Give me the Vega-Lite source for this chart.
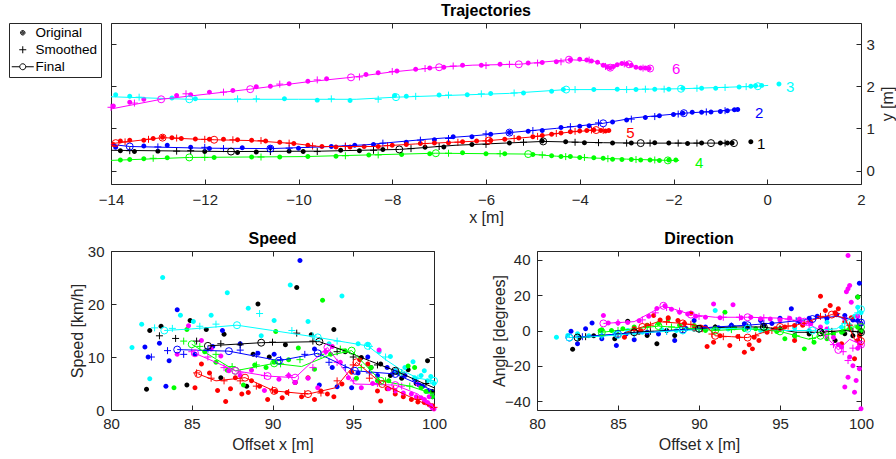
{
"$schema":"https://vega.github.io/schema/vega-lite/v6.json",
"padding":{"left":8,"top":2,"right":0,"bottom":0},
"autosize":{"type":"pad"},
"bounds":"flush",
"spacing":67,
"config":{
 "font":"Liberation Sans",
 "view":{"stroke":"#262626","strokeWidth":1},
 "axis":{"domain":false,"grid":false,"tickColor":"#262626","tickSize":-5,"tickWidth":1,"labelColor":"#262626","labelFontSize":15,"labelPadding":13,"labelOverlap":false,"labelFlush":false,"labelBound":false,"titleColor":"#262626","titleFontSize":16,"titleFontWeight":"normal","titlePadding":3},
 "title":{"fontSize":16,"fontWeight":"bold","color":"#000000","offset":4,"anchor":"middle","frame":"group"}
},
"datasets":{
"top_o":[
{"t":"1","x":-13.8,"y":0.47},{"t":"1","x":-13.5,"y":0.45},{"t":"1","x":-13.0,"y":0.46},{"t":"1","x":-12.0,"y":0.45},{"t":"1","x":-11.3,"y":0.43},{"t":"1","x":-10.9,"y":0.44},{"t":"1","x":-10.2,"y":0.46},{"t":"1","x":-9.9,"y":0.45},{"t":"1","x":-9.1,"y":0.48},{"t":"1","x":-8.7,"y":0.47},{"t":"1","x":-8.2,"y":0.5},{"t":"1","x":-7.3,"y":0.55},{"t":"1","x":-6.9,"y":0.56},{"t":"1","x":-6.3,"y":0.62},{"t":"1","x":-5.5,"y":0.65},{"t":"1","x":-4.8,"y":0.7},{"t":"1","x":-4.3,"y":0.68},{"t":"1","x":-3.9,"y":0.66},{"t":"1","x":-3.3,"y":0.65},{"t":"1","x":-2.9,"y":0.65},{"t":"1","x":-2.4,"y":0.66},{"t":"1","x":-2.1,"y":0.65},{"t":"1","x":-1.7,"y":0.64},{"t":"1","x":-1.4,"y":0.65},{"t":"1","x":-1.0,"y":0.65},{"t":"1","x":-0.85,"y":0.65},{"t":"1","x":-0.75,"y":0.65},{"t":"1","x":-0.35,"y":0.68},
{"t":"2","x":-13.9,"y":0.55},{"t":"2","x":-13.3,"y":0.58},{"t":"2","x":-12.8,"y":0.6},{"t":"2","x":-12.3,"y":0.55},{"t":"2","x":-11.9,"y":0.52},{"t":"2","x":-11.2,"y":0.54},{"t":"2","x":-10.6,"y":0.54},{"t":"2","x":-10.0,"y":0.53},{"t":"2","x":-9.3,"y":0.57},{"t":"2","x":-8.8,"y":0.6},{"t":"2","x":-8.4,"y":0.62},{"t":"2","x":-7.7,"y":0.67},{"t":"2","x":-7.1,"y":0.73},{"t":"2","x":-6.7,"y":0.8},{"t":"2","x":-6.3,"y":0.8},{"t":"2","x":-5.9,"y":0.86},{"t":"2","x":-5.5,"y":0.9},{"t":"2","x":-5.1,"y":0.93},{"t":"2","x":-4.8,"y":0.95},{"t":"2","x":-4.4,"y":1.02},{"t":"2","x":-4.0,"y":1.05},{"t":"2","x":-3.8,"y":1.06},{"t":"2","x":-3.3,"y":1.15},{"t":"2","x":-3.0,"y":1.2},{"t":"2","x":-2.6,"y":1.26},{"t":"2","x":-2.3,"y":1.3},{"t":"2","x":-2.0,"y":1.33},{"t":"2","x":-1.8,"y":1.36},{"t":"2","x":-1.6,"y":1.38},{"t":"2","x":-1.4,"y":1.38},{"t":"2","x":-1.2,"y":1.39},{"t":"2","x":-1.0,"y":1.4},{"t":"2","x":-0.85,"y":1.42},{"t":"2","x":-0.7,"y":1.44},{"t":"2","x":-0.63,"y":1.45},
{"t":"3","x":-13.9,"y":1.8},{"t":"3","x":-13.6,"y":1.76},{"t":"3","x":-12.7,"y":1.72},{"t":"3","x":-12.2,"y":1.7},{"t":"3","x":-10.3,"y":1.7},{"t":"3","x":-9.6,"y":1.67},{"t":"3","x":-8.9,"y":1.66},{"t":"3","x":-7.95,"y":1.78},{"t":"3","x":-7.7,"y":1.76},{"t":"3","x":-7.0,"y":1.79},{"t":"3","x":-6.4,"y":1.8},{"t":"3","x":-5.9,"y":1.83},{"t":"3","x":-5.2,"y":1.84},{"t":"3","x":-4.6,"y":1.88},{"t":"3","x":-4.35,"y":1.92},{"t":"3","x":-3.7,"y":1.92},{"t":"3","x":-3.2,"y":1.93},{"t":"3","x":-2.8,"y":1.92},{"t":"3","x":-2.4,"y":1.93},{"t":"3","x":-2.1,"y":1.93},{"t":"3","x":-1.8,"y":1.95},{"t":"3","x":-1.4,"y":1.95},{"t":"3","x":-1.1,"y":1.95},{"t":"3","x":-0.6,"y":1.98},{"t":"3","x":-0.35,"y":2.0},{"t":"3","x":-0.25,"y":2.01},{"t":"3","x":-0.12,"y":2.02},{"t":"3","x":0.25,"y":2.05},
{"t":"4","x":-13.8,"y":0.25},{"t":"4","x":-13.6,"y":0.26},{"t":"4","x":-13.3,"y":0.28},{"t":"4","x":-12.8,"y":0.3},{"t":"4","x":-11.8,"y":0.31},{"t":"4","x":-11.0,"y":0.32},{"t":"4","x":-10.4,"y":0.32},{"t":"4","x":-9.8,"y":0.33},{"t":"4","x":-9.2,"y":0.34},{"t":"4","x":-8.5,"y":0.37},{"t":"4","x":-7.8,"y":0.38},{"t":"4","x":-7.2,"y":0.4},{"t":"4","x":-6.5,"y":0.42},{"t":"4","x":-6.0,"y":0.4},{"t":"4","x":-5.6,"y":0.4},{"t":"4","x":-5.0,"y":0.38},{"t":"4","x":-4.6,"y":0.35},{"t":"4","x":-4.4,"y":0.33},{"t":"4","x":-4.2,"y":0.33},{"t":"4","x":-4.0,"y":0.31},{"t":"4","x":-3.7,"y":0.3},{"t":"4","x":-3.5,"y":0.29},{"t":"4","x":-3.3,"y":0.27},{"t":"4","x":-3.1,"y":0.26},{"t":"4","x":-2.9,"y":0.26},{"t":"4","x":-2.7,"y":0.25},{"t":"4","x":-2.5,"y":0.25},{"t":"4","x":-2.3,"y":0.24},{"t":"4","x":-2.1,"y":0.25},{"t":"4","x":-1.95,"y":0.25},
{"t":"5","x":-13.95,"y":0.62},{"t":"5","x":-13.8,"y":0.7},{"t":"5","x":-13.6,"y":0.72},{"t":"5","x":-13.3,"y":0.72},{"t":"5","x":-13.1,"y":0.76},{"t":"5","x":-12.9,"y":0.79},{"t":"5","x":-12.7,"y":0.78},{"t":"5","x":-12.5,"y":0.76},{"t":"5","x":-12.2,"y":0.75},{"t":"5","x":-11.9,"y":0.74},{"t":"5","x":-11.6,"y":0.74},{"t":"5","x":-11.3,"y":0.73},{"t":"5","x":-11.0,"y":0.72},{"t":"5","x":-10.7,"y":0.7},{"t":"5","x":-10.4,"y":0.67},{"t":"5","x":-10.1,"y":0.64},{"t":"5","x":-9.8,"y":0.6},{"t":"5","x":-9.5,"y":0.57},{"t":"5","x":-9.2,"y":0.56},{"t":"5","x":-8.9,"y":0.56},{"t":"5","x":-8.6,"y":0.57},{"t":"5","x":-8.3,"y":0.57},{"t":"5","x":-8.0,"y":0.6},{"t":"5","x":-7.7,"y":0.62},{"t":"5","x":-7.4,"y":0.64},{"t":"5","x":-7.1,"y":0.65},{"t":"5","x":-6.8,"y":0.66},{"t":"5","x":-6.5,"y":0.68},{"t":"5","x":-6.2,"y":0.7},{"t":"5","x":-5.9,"y":0.71},{"t":"5","x":-5.6,"y":0.74},{"t":"5","x":-5.3,"y":0.77},{"t":"5","x":-5.0,"y":0.8},{"t":"5","x":-4.8,"y":0.83},{"t":"5","x":-4.6,"y":0.86},{"t":"5","x":-4.4,"y":0.89},{"t":"5","x":-4.2,"y":0.92},{"t":"5","x":-4.0,"y":0.94},{"t":"5","x":-3.85,"y":0.95},{"t":"5","x":-3.7,"y":0.96},{"t":"5","x":-3.55,"y":0.95},{"t":"5","x":-3.45,"y":0.94},{"t":"5","x":-3.38,"y":0.95},
{"t":"6","x":-13.95,"y":1.53},{"t":"6","x":-13.6,"y":1.62},{"t":"6","x":-13.3,"y":1.69},{"t":"6","x":-12.6,"y":1.78},{"t":"6","x":-12.3,"y":1.8},{"t":"6","x":-11.9,"y":1.86},{"t":"6","x":-11.4,"y":1.9},{"t":"6","x":-10.9,"y":1.99},{"t":"6","x":-10.6,"y":2.0},{"t":"6","x":-10.2,"y":2.06},{"t":"6","x":-9.8,"y":2.12},{"t":"6","x":-9.4,"y":2.18},{"t":"6","x":-8.56,"y":2.28},{"t":"6","x":-8.3,"y":2.32},{"t":"6","x":-7.9,"y":2.36},{"t":"6","x":-7.5,"y":2.4},{"t":"6","x":-7.2,"y":2.43},{"t":"6","x":-6.9,"y":2.45},{"t":"6","x":-6.5,"y":2.5},{"t":"6","x":-6.1,"y":2.5},{"t":"6","x":-5.7,"y":2.52},{"t":"6","x":-5.1,"y":2.55},{"t":"6","x":-4.8,"y":2.56},{"t":"6","x":-4.5,"y":2.58},{"t":"6","x":-4.2,"y":2.63},{"t":"6","x":-4.0,"y":2.64},{"t":"6","x":-3.85,"y":2.62},{"t":"6","x":-3.75,"y":2.6},{"t":"6","x":-3.62,"y":2.57},{"t":"6","x":-3.5,"y":2.5},{"t":"6","x":-3.42,"y":2.46},{"t":"6","x":-3.35,"y":2.44},{"t":"6","x":-3.28,"y":2.47},{"t":"6","x":-3.2,"y":2.51},{"t":"6","x":-3.1,"y":2.54},{"t":"6","x":-3.0,"y":2.53},{"t":"6","x":-2.9,"y":2.5},{"t":"6","x":-2.8,"y":2.45},{"t":"6","x":-2.7,"y":2.43},{"t":"6","x":-2.6,"y":2.43},{"t":"6","x":-2.52,"y":2.42}
],
"top_s":[
{"t":"1","x":-13.6,"y":0.47},{"t":"1","x":-12.6,"y":0.46},{"t":"1","x":-12.3,"y":0.47},{"t":"1","x":-10.6,"y":0.45},{"t":"1","x":-9.6,"y":0.45},{"t":"1","x":-8.4,"y":0.48},{"t":"1","x":-7.6,"y":0.52},{"t":"1","x":-7.0,"y":0.57},{"t":"1","x":-6.0,"y":0.62},{"t":"1","x":-5.2,"y":0.67},{"t":"1","x":-4.1,"y":0.67},{"t":"1","x":-3.6,"y":0.66},{"t":"1","x":-3.0,"y":0.65},{"t":"1","x":-2.5,"y":0.65},{"t":"1","x":-1.9,"y":0.65},{"t":"1","x":-1.5,"y":0.65},{"t":"1","x":-0.9,"y":0.65},
{"t":"2","x":-13.0,"y":0.56},{"t":"2","x":-12.0,"y":0.55},{"t":"2","x":-11.6,"y":0.52},{"t":"2","x":-10.2,"y":0.53},{"t":"2","x":-9.0,"y":0.58},{"t":"2","x":-8.2,"y":0.65},{"t":"2","x":-7.4,"y":0.72},{"t":"2","x":-6.8,"y":0.76},{"t":"2","x":-6.0,"y":0.87},{"t":"2","x":-5.0,"y":0.95},{"t":"2","x":-4.2,"y":1.04},{"t":"2","x":-3.6,"y":1.13},{"t":"2","x":-2.9,"y":1.22},{"t":"2","x":-2.4,"y":1.28},{"t":"2","x":-1.9,"y":1.34},{"t":"2","x":-1.3,"y":1.39},{"t":"2","x":-0.9,"y":1.42},
{"t":"3","x":-13.4,"y":1.74},{"t":"3","x":-11.3,"y":1.7},{"t":"3","x":-10.9,"y":1.7},{"t":"3","x":-9.3,"y":1.7},{"t":"3","x":-8.3,"y":1.69},{"t":"3","x":-7.5,"y":1.76},{"t":"3","x":-6.8,"y":1.79},{"t":"3","x":-6.1,"y":1.82},{"t":"3","x":-5.4,"y":1.84},{"t":"3","x":-4.1,"y":1.92},{"t":"3","x":-3.0,"y":1.92},{"t":"3","x":-2.6,"y":1.93},{"t":"3","x":-2.2,"y":1.93},{"t":"3","x":-1.5,"y":1.95},{"t":"3","x":-0.9,"y":1.97},{"t":"3","x":-0.45,"y":1.99},
{"t":"4","x":-13.1,"y":0.29},{"t":"4","x":-12.0,"y":0.31},{"t":"4","x":-10.8,"y":0.32},{"t":"4","x":-9.0,"y":0.35},{"t":"4","x":-8.3,"y":0.37},{"t":"4","x":-6.8,"y":0.41},{"t":"4","x":-5.7,"y":0.4},{"t":"4","x":-4.8,"y":0.37},{"t":"4","x":-4.3,"y":0.33},{"t":"4","x":-3.9,"y":0.31},{"t":"4","x":-3.4,"y":0.28},{"t":"4","x":-2.8,"y":0.26},{"t":"4","x":-2.4,"y":0.25},
{"t":"5","x":-13.7,"y":0.68},{"t":"5","x":-13.2,"y":0.74},{"t":"5","x":-12.6,"y":0.77},{"t":"5","x":-12.0,"y":0.74},{"t":"5","x":-11.4,"y":0.73},{"t":"5","x":-10.8,"y":0.71},{"t":"5","x":-10.2,"y":0.65},{"t":"5","x":-9.7,"y":0.58},{"t":"5","x":-9.0,"y":0.57},{"t":"5","x":-8.1,"y":0.59},{"t":"5","x":-7.3,"y":0.64},{"t":"5","x":-6.6,"y":0.67},{"t":"5","x":-6.0,"y":0.7},{"t":"5","x":-5.4,"y":0.76},{"t":"5","x":-4.9,"y":0.81},{"t":"5","x":-4.5,"y":0.88},{"t":"5","x":-4.1,"y":0.93},{"t":"5","x":-3.75,"y":0.96},{"t":"5","x":-3.5,"y":0.95},
{"t":"6","x":-14.0,"y":1.5},{"t":"6","x":-13.5,"y":1.6},{"t":"6","x":-12.4,"y":1.82},{"t":"6","x":-11.6,"y":1.86},{"t":"6","x":-10.4,"y":2.05},{"t":"6","x":-9.6,"y":2.15},{"t":"6","x":-8.7,"y":2.22},{"t":"6","x":-8.0,"y":2.35},{"t":"6","x":-7.3,"y":2.42},{"t":"6","x":-6.7,"y":2.48},{"t":"6","x":-6.0,"y":2.49},{"t":"6","x":-5.5,"y":2.52},{"t":"6","x":-4.9,"y":2.55},{"t":"6","x":-4.4,"y":2.58},{"t":"6","x":-3.8,"y":2.62},{"t":"6","x":-3.45,"y":2.47},{"t":"6","x":-3.05,"y":2.53},{"t":"6","x":-2.65,"y":2.43}
],
"top_f":[
{"t":"1","x":-14,"y":0.48,"c":0},{"t":"1","x":-11.44,"y":0.45,"c":1},{"t":"1","x":-9.5,"y":0.46,"c":0},{"t":"1","x":-7.85,"y":0.5,"c":1},{"t":"1","x":-6.64,"y":0.6,"c":0},{"t":"1","x":-4.78,"y":0.69,"c":1},{"t":"1","x":-3.5,"y":0.66,"c":0},{"t":"1","x":-2.7,"y":0.65,"c":1},{"t":"1","x":-1.2,"y":0.65,"c":1},{"t":"1","x":-0.71,"y":0.65,"c":1},
{"t":"2","x":-14,"y":0.62,"c":0},{"t":"2","x":-13.6,"y":0.57,"c":1},{"t":"2","x":-12,"y":0.53,"c":0},{"t":"2","x":-10.6,"y":0.52,"c":1},{"t":"2","x":-9.5,"y":0.56,"c":0},{"t":"2","x":-8.56,"y":0.61,"c":0},{"t":"2","x":-7.98,"y":0.67,"c":0},{"t":"2","x":-7.28,"y":0.74,"c":0},{"t":"2","x":-6.3,"y":0.82,"c":0},{"t":"2","x":-5.5,"y":0.9,"c":1},{"t":"2","x":-4.5,"y":1.0,"c":0},{"t":"2","x":-3.5,"y":1.12,"c":1},{"t":"2","x":-2.84,"y":1.25,"c":0},{"t":"2","x":-1.78,"y":1.36,"c":1},{"t":"2","x":-1.05,"y":1.41,"c":0},{"t":"2","x":-0.62,"y":1.45,"c":0},
{"t":"3","x":-14,"y":1.75,"c":0},{"t":"3","x":-12.33,"y":1.69,"c":1},{"t":"3","x":-10,"y":1.69,"c":0},{"t":"3","x":-8.77,"y":1.69,"c":0},{"t":"3","x":-7.92,"y":1.74,"c":1},{"t":"3","x":-5.5,"y":1.83,"c":0},{"t":"3","x":-4.29,"y":1.92,"c":1},{"t":"3","x":-3.23,"y":1.92,"c":0},{"t":"3","x":-1.84,"y":1.94,"c":1},{"t":"3","x":-0.2,"y":2.0,"c":1},{"t":"3","x":0.02,"y":2.02,"c":0},
{"t":"4","x":-14,"y":0.24,"c":0},{"t":"4","x":-12.33,"y":0.31,"c":1},{"t":"4","x":-9.9,"y":0.33,"c":0},{"t":"4","x":-7.07,"y":0.41,"c":1},{"t":"4","x":-5.1,"y":0.39,"c":1},{"t":"4","x":-4.5,"y":0.34,"c":0},{"t":"4","x":-3.8,"y":0.3,"c":0},{"t":"4","x":-3.0,"y":0.27,"c":0},{"t":"4","x":-2.12,"y":0.24,"c":1},{"t":"4","x":-1.88,"y":0.24,"c":0},
{"t":"5","x":-14,"y":0.63,"c":0},{"t":"5","x":-13.9,"y":0.65,"c":1},{"t":"5","x":-12.9,"y":0.78,"c":1},{"t":"5","x":-12.1,"y":0.74,"c":0},{"t":"5","x":-11.8,"y":0.73,"c":1},{"t":"5","x":-11,"y":0.71,"c":0},{"t":"5","x":-10.1,"y":0.64,"c":0},{"t":"5","x":-9.56,"y":0.57,"c":0},{"t":"5","x":-8.4,"y":0.57,"c":0},{"t":"5","x":-7.5,"y":0.63,"c":0},{"t":"5","x":-5.94,"y":0.71,"c":1},{"t":"5","x":-5.08,"y":0.79,"c":0},{"t":"5","x":-4.23,"y":0.91,"c":0},{"t":"5","x":-3.65,"y":0.96,"c":1},{"t":"5","x":-3.38,"y":0.95,"c":0},
{"t":"6","x":-14,"y":1.46,"c":0},{"t":"6","x":-12.93,"y":1.69,"c":1},{"t":"6","x":-11.03,"y":1.93,"c":1},{"t":"6","x":-9.84,"y":2.1,"c":0},{"t":"6","x":-8.88,"y":2.21,"c":1},{"t":"6","x":-8.07,"y":2.33,"c":0},{"t":"6","x":-7.0,"y":2.45,"c":1},{"t":"6","x":-6.28,"y":2.5,"c":0},{"t":"6","x":-5.3,"y":2.52,"c":1},{"t":"6","x":-4.23,"y":2.63,"c":1},{"t":"6","x":-3.7,"y":2.6,"c":0},{"t":"6","x":-3.5,"y":2.5,"c":0},{"t":"6","x":-3.35,"y":2.44,"c":1},{"t":"6","x":-3.15,"y":2.53,"c":0},{"t":"6","x":-2.95,"y":2.52,"c":1},{"t":"6","x":-2.75,"y":2.44,"c":0},{"t":"6","x":-2.5,"y":2.42,"c":1}
],
"top_l":[
{"t":"1","x":-0.22,"y":0.63},{"t":"2","x":-0.26,"y":1.37},{"t":"3","x":0.4,"y":1.97},{"t":"4","x":-1.54,"y":0.19},{"t":"5","x":-3.01,"y":0.88},{"t":"6","x":-2.03,"y":2.41}
],
"spd_o":[
{"t":"1","x":82.2,"y":3.9},{"t":"1","x":82.4,"y":15.0},{"t":"1","x":83.1,"y":15.8},{"t":"1","x":84.7,"y":4.7},{"t":"1","x":84.9,"y":16.9},{"t":"1","x":85.9,"y":15.2},{"t":"1","x":86.8,"y":6.1},{"t":"1","x":87.0,"y":14.3},{"t":"1","x":88.4,"y":4.5},{"t":"1","x":88.8,"y":10.5},{"t":"1","x":89.1,"y":20.0},{"t":"1","x":89.8,"y":10},{"t":"1","x":90.8,"y":12.3},{"t":"1","x":91.5,"y":23.1},{"t":"1","x":92.4,"y":14.2},{"t":"1","x":93.8,"y":15.2},{"t":"1","x":94.5,"y":11},{"t":"1","x":95.5,"y":9.9},{"t":"1","x":96.1,"y":8},{"t":"1","x":96.7,"y":8.7},{"t":"1","x":97.3,"y":6.5},{"t":"1","x":98.0,"y":6},{"t":"1","x":98.4,"y":7.6},{"t":"1","x":98.9,"y":5},{"t":"1","x":99.2,"y":4.5},{"t":"1","x":99.6,"y":9.3},{"t":"1","x":99.9,"y":3.5},
{"t":"2","x":82.1,"y":11.9},{"t":"2","x":82.3,"y":10},{"t":"2","x":83.0,"y":12.6},{"t":"2","x":83.4,"y":4.5},{"t":"2","x":83.6,"y":9.3},{"t":"2","x":84.1,"y":18.9},{"t":"2","x":85.2,"y":10.5},{"t":"2","x":86.3,"y":12},{"t":"2","x":86.9,"y":15.0},{"t":"2","x":88.0,"y":12.5},{"t":"2","x":89.1,"y":10.7},{"t":"2","x":90.1,"y":10.5},{"t":"2","x":91.4,"y":5.2},{"t":"2","x":91.7,"y":28.2},{"t":"2","x":92.6,"y":11.5},{"t":"2","x":92.9,"y":4.7},{"t":"2","x":93.7,"y":8},{"t":"2","x":94.0,"y":4.4},{"t":"2","x":94.9,"y":4.2},{"t":"2","x":95.3,"y":7},{"t":"2","x":95.9,"y":10.0},{"t":"2","x":96.5,"y":6.5},{"t":"2","x":97.1,"y":8},{"t":"2","x":97.6,"y":7.4},{"t":"2","x":98.2,"y":6.5},{"t":"2","x":98.8,"y":5.8},{"t":"2","x":99.3,"y":4.5},{"t":"2","x":99.6,"y":3.6},{"t":"2","x":99.9,"y":2.5},
{"t":"3","x":81.3,"y":11.8},{"t":"3","x":81.9,"y":16.2},{"t":"3","x":82.4,"y":5.9},{"t":"3","x":83.2,"y":25.0},{"t":"3","x":84.3,"y":17.9},{"t":"3","x":85.1,"y":16.7},{"t":"3","x":86.2,"y":17.9},{"t":"3","x":87.2,"y":22.1},{"t":"3","x":88.5,"y":19.2},{"t":"3","x":89.3,"y":14},{"t":"3","x":90.1,"y":16.9},{"t":"3","x":91.1,"y":23.6},{"t":"3","x":92.2,"y":16.7},{"t":"3","x":93.5,"y":12.5},{"t":"3","x":94.3,"y":21.5},{"t":"3","x":95.3,"y":12.5},{"t":"3","x":95.9,"y":12.4},{"t":"3","x":96.6,"y":11},{"t":"3","x":97.3,"y":10.1},{"t":"3","x":97.6,"y":7.4},{"t":"3","x":98.2,"y":8},{"t":"3","x":98.7,"y":9.1},{"t":"3","x":98.8,"y":6.1},{"t":"3","x":99.2,"y":6.5},{"t":"3","x":99.4,"y":7.4},{"t":"3","x":99.6,"y":5.5},{"t":"3","x":99.8,"y":6.3},{"t":"3","x":100,"y":5},
{"t":"4","x":83.9,"y":4.2},{"t":"4","x":84.7,"y":15.2},{"t":"4","x":85.8,"y":11},{"t":"4","x":86.5,"y":9},{"t":"4","x":87.2,"y":7.5},{"t":"4","x":88.2,"y":4.7},{"t":"4","x":88.9,"y":8.5},{"t":"4","x":89.6,"y":8},{"t":"4","x":90.1,"y":9.0},{"t":"4","x":90.2,"y":14.8},{"t":"4","x":91.0,"y":9.5},{"t":"4","x":91.6,"y":11.7},{"t":"4","x":92.6,"y":7.7},{"t":"4","x":93.1,"y":20.7},{"t":"4","x":93.6,"y":10.5},{"t":"4","x":94.5,"y":11.2},{"t":"4","x":95.2,"y":6},{"t":"4","x":96.1,"y":8.0},{"t":"4","x":96.5,"y":5.5},{"t":"4","x":97.2,"y":5.5},{"t":"4","x":97.8,"y":7},{"t":"4","x":98.4,"y":8.3},{"t":"4","x":98.8,"y":8.0},{"t":"4","x":99.2,"y":4.2},{"t":"4","x":99.5,"y":3.5},{"t":"4","x":99.9,"y":2.5},
{"t":"5","x":85.2,"y":4.2},{"t":"5","x":85.6,"y":8.7},{"t":"5","x":86.1,"y":7},{"t":"5","x":86.6,"y":3.7},{"t":"5","x":87.1,"y":1.6},{"t":"5","x":87.4,"y":4},{"t":"5","x":87.7,"y":6.1},{"t":"5","x":88.1,"y":3},{"t":"5","x":88.5,"y":3.3},{"t":"5","x":88.7,"y":5.5},{"t":"5","x":89.2,"y":4.5},{"t":"5","x":89.7,"y":2.0},{"t":"5","x":90.2,"y":3.5},{"t":"5","x":90.6,"y":2.3},{"t":"5","x":90.9,"y":3.3},{"t":"5","x":91.4,"y":5.2},{"t":"5","x":91.8,"y":2.5},{"t":"5","x":92.2,"y":6.1},{"t":"5","x":92.6,"y":2.0},{"t":"5","x":93.0,"y":3.6},{"t":"5","x":93.4,"y":3.0},{"t":"5","x":93.8,"y":2.5},{"t":"5","x":94.3,"y":4.9},{"t":"5","x":94.9,"y":7.1},{"t":"5","x":95.4,"y":9.5},{"t":"5","x":95.9,"y":8.7},{"t":"5","x":96.5,"y":3.6},{"t":"5","x":96.7,"y":1.7},{"t":"5","x":97.1,"y":4},{"t":"5","x":97.6,"y":3.0},{"t":"5","x":98.1,"y":2.5},{"t":"5","x":98.6,"y":2.0},{"t":"5","x":99.0,"y":1.5},{"t":"5","x":99.4,"y":1.4},{"t":"5","x":99.7,"y":1},{"t":"5","x":99.9,"y":0.8},
{"t":"6","x":84.1,"y":10.5},{"t":"6","x":84.8,"y":15.9},{"t":"6","x":85.6,"y":13.1},{"t":"6","x":86.2,"y":11.5},{"t":"6","x":86.8,"y":10.2},{"t":"6","x":87.3,"y":7.4},{"t":"6","x":88,"y":6.5},{"t":"6","x":88.7,"y":7.5},{"t":"6","x":89.5,"y":3.7},{"t":"6","x":90.4,"y":5.8},{"t":"6","x":91.0,"y":6.5},{"t":"6","x":91.4,"y":5.2},{"t":"6","x":92.2,"y":6},{"t":"6","x":92.8,"y":4.2},{"t":"6","x":93.3,"y":11},{"t":"6","x":93.7,"y":12},{"t":"6","x":94.2,"y":9.0},{"t":"6","x":94.7,"y":6.1},{"t":"6","x":95.5,"y":4.2},{"t":"6","x":96.2,"y":5},{"t":"6","x":96.6,"y":11.3},{"t":"6","x":97.2,"y":4},{"t":"6","x":97.6,"y":3.6},{"t":"6","x":98.1,"y":3.2},{"t":"6","x":98.6,"y":3.0},{"t":"6","x":98.9,"y":2.5},{"t":"6","x":99.0,"y":4.9},{"t":"6","x":99.2,"y":2.3},{"t":"6","x":99.4,"y":2},{"t":"6","x":99.6,"y":1.4},{"t":"6","x":99.7,"y":2.5},{"t":"6","x":99.8,"y":0.8},{"t":"6","x":99.9,"y":0.4},{"t":"6","x":100,"y":0.2}
],
"spd_s":[
{"t":"1","x":83,"y":14},{"t":"1","x":84,"y":13.5},{"t":"1","x":85.3,"y":13},{"t":"1","x":86.8,"y":12.5},{"t":"1","x":88,"y":12.3},{"t":"1","x":90,"y":12.8},{"t":"1","x":91.5,"y":14.5},{"t":"1","x":92.5,"y":13},{"t":"1","x":94,"y":11},{"t":"1","x":95,"y":10},{"t":"1","x":96.5,"y":8.5},{"t":"1","x":98,"y":7},{"t":"1","x":99.5,"y":5},
{"t":"2","x":82.5,"y":10},{"t":"2","x":83.5,"y":11.2},{"t":"2","x":84.5,"y":10.5},{"t":"2","x":86,"y":11.5},{"t":"2","x":88,"y":11.3},{"t":"2","x":89,"y":10.5},{"t":"2","x":90.5,"y":9.5},{"t":"2","x":92,"y":10.5},{"t":"2","x":93.5,"y":9},{"t":"2","x":94.5,"y":8},{"t":"2","x":96,"y":7},{"t":"2","x":97.5,"y":7},{"t":"2","x":99,"y":5},
{"t":"3","x":82.7,"y":15.5},{"t":"3","x":83.8,"y":15.4},{"t":"3","x":85.5,"y":15.8},{"t":"3","x":86.5,"y":16.2},{"t":"3","x":89.2,"y":18.2},{"t":"3","x":91.2,"y":15},{"t":"3","x":92.5,"y":14},{"t":"3","x":94,"y":13},{"t":"3","x":96,"y":12},{"t":"3","x":97,"y":10},{"t":"3","x":98,"y":7},{"t":"3","x":99,"y":6},{"t":"3","x":99.8,"y":5.5},
{"t":"4","x":84.5,"y":13},{"t":"4","x":85.5,"y":12},{"t":"4","x":86.5,"y":10.5},{"t":"4","x":87.5,"y":8.2},{"t":"4","x":89,"y":8.5},{"t":"4","x":90.5,"y":8.7},{"t":"4","x":91.7,"y":9.5},{"t":"4","x":93,"y":10.5},{"t":"4","x":94.2,"y":11.5},{"t":"4","x":95.5,"y":8},{"t":"4","x":97,"y":5.5},{"t":"4","x":98.5,"y":4.5},{"t":"4","x":99.8,"y":3.2},
{"t":"5","x":85.3,"y":7},{"t":"5","x":86.2,"y":6},{"t":"5","x":87,"y":5.5},{"t":"5","x":88,"y":5.5},{"t":"5","x":89,"y":4.5},{"t":"5","x":90,"y":3.8},{"t":"5","x":91,"y":3.3},{"t":"5","x":92,"y":3.1},{"t":"5","x":93,"y":3.2},{"t":"5","x":94,"y":5.5},{"t":"5","x":95,"y":8.5},{"t":"5","x":96,"y":6},{"t":"5","x":97.5,"y":4},{"t":"5","x":99,"y":2},{"t":"5","x":100,"y":0.5},
{"t":"6","x":85,"y":11},{"t":"6","x":86,"y":10},{"t":"6","x":87,"y":8},{"t":"6","x":88,"y":7},{"t":"6","x":89.5,"y":6.5},{"t":"6","x":91,"y":6.5},{"t":"6","x":92.5,"y":8},{"t":"6","x":93.3,"y":11},{"t":"6","x":94,"y":9},{"t":"6","x":95,"y":5.5},{"t":"6","x":96.5,"y":5},{"t":"6","x":98,"y":4.5},{"t":"6","x":99.5,"y":1.5}
],
"spd_f":[
{"t":"1","x":86.0,"y":12.1,"c":1},{"t":"1","x":89.3,"y":12.7,"c":1},{"t":"1","x":92.9,"y":12.9,"c":1},{"t":"1","x":94.7,"y":10.9,"c":0},{"t":"1","x":96,"y":9.3,"c":0},{"t":"1","x":97.6,"y":7.4,"c":1},{"t":"1","x":99,"y":5.5,"c":0},{"t":"1","x":100,"y":4.2,"c":0},
{"t":"2","x":84.1,"y":11.4,"c":1},{"t":"2","x":87.3,"y":11.1,"c":1},{"t":"2","x":90.4,"y":9.3,"c":1},{"t":"2","x":92.8,"y":10.7,"c":1},{"t":"2","x":95.1,"y":7.4,"c":1},{"t":"2","x":97.6,"y":6.8,"c":1},{"t":"2","x":100,"y":3.6,"c":0},
{"t":"3","x":83.3,"y":15.0,"c":1},{"t":"3","x":85,"y":15.3,"c":0},{"t":"3","x":87.8,"y":16.0,"c":1},{"t":"3","x":90,"y":15,"c":0},{"t":"3","x":92.8,"y":13.7,"c":1},{"t":"3","x":94.5,"y":12.8,"c":0},{"t":"3","x":95.9,"y":12.1,"c":1},{"t":"3","x":97,"y":9.5,"c":0},{"t":"3","x":98,"y":7.5,"c":0},{"t":"3","x":99,"y":6,"c":0},{"t":"3","x":100,"y":5.5,"c":1},
{"t":"4","x":85.0,"y":12.4,"c":1},{"t":"4","x":87.7,"y":7.4,"c":1},{"t":"4","x":90.1,"y":8.8,"c":1},{"t":"4","x":91.8,"y":8.2,"c":0},{"t":"4","x":93.4,"y":10.2,"c":0},{"t":"4","x":94.9,"y":11.2,"c":1},{"t":"4","x":96.7,"y":5.5,"c":1},{"t":"4","x":98.5,"y":4.5,"c":0},{"t":"4","x":100,"y":3.0,"c":0},
{"t":"5","x":85.4,"y":6.8,"c":1},{"t":"5","x":86.5,"y":5.5,"c":0},{"t":"5","x":88.3,"y":6.1,"c":1},{"t":"5","x":90.1,"y":3.6,"c":1},{"t":"5","x":92.2,"y":3.0,"c":1},{"t":"5","x":93.9,"y":4.2,"c":0},{"t":"5","x":95.2,"y":9.0,"c":1},{"t":"5","x":96.8,"y":4.9,"c":1},{"t":"5","x":98.5,"y":2.5,"c":0},{"t":"5","x":100,"y":0.4,"c":0},
{"t":"6","x":85.2,"y":10.7,"c":1},{"t":"6","x":87.7,"y":7.4,"c":1},{"t":"6","x":89.7,"y":6.4,"c":1},{"t":"6","x":91.4,"y":6.1,"c":1},{"t":"6","x":93.4,"y":11.8,"c":1},{"t":"6","x":95.1,"y":4.9,"c":0},{"t":"6","x":97.6,"y":4.7,"c":1},{"t":"6","x":99,"y":3,"c":0},{"t":"6","x":100,"y":0.4,"c":0}
],
"dir_o":[
{"t":"1","x":82.2,"y":-10.6},{"t":"1","x":82.6,"y":-4},{"t":"1","x":83.5,"y":-3},{"t":"1","x":84.8,"y":-4.7},{"t":"1","x":85.6,"y":5.3},{"t":"1","x":86.3,"y":-1},{"t":"1","x":86.8,"y":-2.8},{"t":"1","x":87.4,"y":-7.5},{"t":"1","x":88.0,"y":0},{"t":"1","x":88.5,"y":-2.8},{"t":"1","x":89.2,"y":1},{"t":"1","x":90,"y":1.5},{"t":"1","x":91,"y":2},{"t":"1","x":92,"y":2.5},{"t":"1","x":93,"y":2},{"t":"1","x":94,"y":2.5},{"t":"1","x":95,"y":1},{"t":"1","x":95.9,"y":-2.8},{"t":"1","x":96.8,"y":-2},{"t":"1","x":97.6,"y":-1},{"t":"1","x":98.4,"y":-5.7},{"t":"1","x":99.0,"y":-1.9},{"t":"1","x":99.5,"y":-3},{"t":"1","x":99.8,"y":18.9},{"t":"1","x":100,"y":-1},
{"t":"2","x":82.1,"y":-0.4},{"t":"2","x":82.5,"y":-7.5},{"t":"2","x":83.0,"y":1},{"t":"2","x":83.4,"y":4.2},{"t":"2","x":84.0,"y":-4.7},{"t":"2","x":84.9,"y":-8.5},{"t":"2","x":85.5,"y":-2},{"t":"2","x":86.0,"y":-5.3},{"t":"2","x":86.8,"y":-1},{"t":"2","x":87.5,"y":-2},{"t":"2","x":88.5,"y":-5.7},{"t":"2","x":89.2,"y":1},{"t":"2","x":89.7,"y":5.7},{"t":"2","x":90.4,"y":2},{"t":"2","x":91.2,"y":1.5},{"t":"2","x":92.0,"y":3},{"t":"2","x":92.8,"y":3.8},{"t":"2","x":93.8,"y":5.7},{"t":"2","x":94.5,"y":4},{"t":"2","x":95.0,"y":7},{"t":"2","x":95.7,"y":12.3},{"t":"2","x":96.2,"y":5},{"t":"2","x":96.8,"y":7},{"t":"2","x":97.3,"y":8.1},{"t":"2","x":97.9,"y":7},{"t":"2","x":98.5,"y":9},{"t":"2","x":99.0,"y":8.5},{"t":"2","x":99.5,"y":6},{"t":"2","x":99.8,"y":5.7},{"t":"2","x":99.9,"y":26.8},{"t":"2","x":100,"y":4},
{"t":"3","x":81.2,"y":-3.8},{"t":"3","x":81.9,"y":-2.8},{"t":"3","x":82.5,"y":-1.9},{"t":"3","x":83.2,"y":-3},{"t":"3","x":84.0,"y":-2.8},{"t":"3","x":84.8,"y":-2},{"t":"3","x":85.6,"y":0},{"t":"3","x":86.5,"y":-1},{"t":"3","x":87.7,"y":0.6},{"t":"3","x":88.6,"y":0},{"t":"3","x":89.7,"y":0.6},{"t":"3","x":91.0,"y":11.3},{"t":"3","x":91.8,"y":0.9},{"t":"3","x":92.8,"y":1},{"t":"3","x":93.8,"y":0},{"t":"3","x":94.8,"y":1},{"t":"3","x":95.9,"y":1.5},{"t":"3","x":96.8,"y":0},{"t":"3","x":97.9,"y":4.7},{"t":"3","x":98.8,"y":1.9},{"t":"3","x":99.3,"y":3},{"t":"3","x":99.6,"y":8},{"t":"3","x":99.8,"y":13.2},{"t":"3","x":100,"y":10},
{"t":"4","x":83.9,"y":0},{"t":"4","x":84.0,"y":0.4},{"t":"4","x":84.6,"y":0},{"t":"4","x":85.3,"y":1},{"t":"4","x":86.0,"y":2},{"t":"4","x":86.8,"y":2.8},{"t":"4","x":87.5,"y":4},{"t":"4","x":88.1,"y":6.6},{"t":"4","x":88.8,"y":3},{"t":"4","x":89.7,"y":2.8},{"t":"4","x":90.4,"y":0},{"t":"4","x":91.0,"y":1},{"t":"4","x":91.6,"y":10.4},{"t":"4","x":92.2,"y":1.5},{"t":"4","x":92.8,"y":0.5},{"t":"4","x":93.5,"y":1},{"t":"4","x":94.2,"y":0},{"t":"4","x":94.8,"y":-0.5},{"t":"4","x":95.3,"y":-4.7},{"t":"4","x":95.9,"y":-3},{"t":"4","x":96.5,"y":-10.4},{"t":"4","x":97.1,"y":-6.6},{"t":"4","x":97.9,"y":-4.7},{"t":"4","x":98.3,"y":-2},{"t":"4","x":98.8,"y":-1},{"t":"4","x":99.3,"y":1},{"t":"4","x":99.8,"y":18.9},{"t":"4","x":99.8,"y":1.9},{"t":"4","x":100,"y":0},
{"t":"5","x":85.4,"y":-3.8},{"t":"5","x":86.0,"y":1},{"t":"5","x":86.4,"y":0},{"t":"5","x":86.8,"y":3},{"t":"5","x":87.2,"y":8.5},{"t":"5","x":87.6,"y":6},{"t":"5","x":88.1,"y":7.2},{"t":"5","x":88.7,"y":5.7},{"t":"5","x":89.1,"y":4},{"t":"5","x":89.5,"y":9.8},{"t":"5","x":89.7,"y":0.9},{"t":"5","x":90.1,"y":2},{"t":"5","x":90.5,"y":-9.1},{"t":"5","x":90.9,"y":-6.6},{"t":"5","x":91.3,"y":-3},{"t":"5","x":91.9,"y":-8.5},{"t":"5","x":92.4,"y":-3.4},{"t":"5","x":92.8,"y":-12.3},{"t":"5","x":93.1,"y":-8},{"t":"5","x":93.3,"y":-10.4},{"t":"5","x":93.4,"y":-3.8},{"t":"5","x":93.7,"y":-5.7},{"t":"5","x":94.2,"y":-1},{"t":"5","x":94.7,"y":1},{"t":"5","x":95.3,"y":2},{"t":"5","x":95.9,"y":2.8},{"t":"5","x":95.9,"y":-5.7},{"t":"5","x":96.4,"y":3},{"t":"5","x":96.9,"y":4.7},{"t":"5","x":97.5,"y":19.4},{"t":"5","x":97.8,"y":11.3},{"t":"5","x":98.1,"y":14.2},{"t":"5","x":98.4,"y":10},{"t":"5","x":98.6,"y":12.3},{"t":"5","x":98.8,"y":-7.5},{"t":"5","x":99.0,"y":5},{"t":"5","x":99.4,"y":7.2},{"t":"5","x":99.6,"y":-16},{"t":"5","x":99.8,"y":-5.7},{"t":"5","x":99.9,"y":-3},
{"t":"6","x":84.1,"y":8.5},{"t":"6","x":84.4,"y":4.2},{"t":"6","x":85.0,"y":4.2},{"t":"6","x":85.6,"y":4.5},{"t":"6","x":86.3,"y":5.5},{"t":"6","x":86.9,"y":8},{"t":"6","x":87.4,"y":12.5},{"t":"6","x":87.9,"y":14},{"t":"6","x":88.3,"y":12},{"t":"6","x":88.8,"y":10.4},{"t":"6","x":89.3,"y":9.4},{"t":"6","x":89.8,"y":8},{"t":"6","x":90.4,"y":7.5},{"t":"6","x":90.9,"y":15},{"t":"6","x":91.3,"y":7.2},{"t":"6","x":92.1,"y":14.6},{"t":"6","x":92.6,"y":7.2},{"t":"6","x":93.2,"y":7.5},{"t":"6","x":93.8,"y":6.6},{"t":"6","x":94.4,"y":6.5},{"t":"6","x":95.0,"y":6},{"t":"6","x":95.6,"y":7},{"t":"6","x":96.2,"y":6.5},{"t":"6","x":96.9,"y":3.8},{"t":"6","x":97.5,"y":2},{"t":"6","x":97.9,"y":0.9},{"t":"6","x":98.3,"y":-4},{"t":"6","x":98.6,"y":-8},{"t":"6","x":98.8,"y":-9.4},{"t":"6","x":99.0,"y":6.6},{"t":"6","x":99.1,"y":22},{"t":"6","x":99.2,"y":42.5},{"t":"6","x":99.2,"y":23.6},{"t":"6","x":99.3,"y":25.5},{"t":"6","x":99.2,"y":-26.4},{"t":"6","x":99.0,"y":-32},{"t":"6","x":99.4,"y":16},{"t":"6","x":99.3,"y":-15},{"t":"6","x":99.5,"y":-20},{"t":"6","x":99.6,"y":-35},{"t":"6","x":99.7,"y":-28.3},{"t":"6","x":99.8,"y":-10},{"t":"6","x":99.9,"y":-21.7},{"t":"6","x":99.95,"y":-8},{"t":"6","x":100,"y":-44.3},{"t":"6","x":99.9,"y":4},{"t":"6","x":99.8,"y":8}
],
"dir_s":[
{"t":"1","x":83,"y":-3.5},{"t":"1","x":85,"y":-2},{"t":"1","x":87,"y":-0.5},{"t":"1","x":89,"y":0.5},{"t":"1","x":91,"y":1.5},{"t":"1","x":93,"y":2},{"t":"1","x":95,"y":1},{"t":"1","x":96.8,"y":-1},{"t":"1","x":98.2,"y":-0.5},{"t":"1","x":99.5,"y":-0.5},
{"t":"2","x":82.8,"y":-3.5},{"t":"2","x":84,"y":-2.5},{"t":"2","x":86,"y":-1.5},{"t":"2","x":88,"y":-0.5},{"t":"2","x":90,"y":1},{"t":"2","x":92,"y":2.5},{"t":"2","x":94,"y":4},{"t":"2","x":96,"y":5.5},{"t":"2","x":97.8,"y":7.5},{"t":"2","x":99,"y":7},{"t":"2","x":99.8,"y":5},
{"t":"3","x":82.5,"y":-4},{"t":"3","x":84,"y":-3},{"t":"3","x":86,"y":-2},{"t":"3","x":88,"y":-0.5},{"t":"3","x":90,"y":0.5},{"t":"3","x":92,"y":1},{"t":"3","x":94,"y":0.5},{"t":"3","x":96,"y":0},{"t":"3","x":98,"y":0.5},{"t":"3","x":99,"y":4},{"t":"3","x":99.8,"y":10},
{"t":"4","x":85,"y":0},{"t":"4","x":86.8,"y":2},{"t":"4","x":88.3,"y":2},{"t":"4","x":90,"y":1},{"t":"4","x":92,"y":0.5},{"t":"4","x":94,"y":0.5},{"t":"4","x":96,"y":-3},{"t":"4","x":97,"y":-4.5},{"t":"4","x":98,"y":-2},{"t":"4","x":99,"y":0.5},{"t":"4","x":99.8,"y":3},
{"t":"5","x":86,"y":0},{"t":"5","x":87,"y":3},{"t":"5","x":88,"y":5},{"t":"5","x":89.5,"y":3.5},{"t":"5","x":90.2,"y":1},{"t":"5","x":90.8,"y":-2},{"t":"5","x":91.5,"y":-3.5},{"t":"5","x":92.5,"y":-4},{"t":"5","x":93.5,"y":-3},{"t":"5","x":94.5,"y":0},{"t":"5","x":95.5,"y":2.5},{"t":"5","x":96.5,"y":4},{"t":"5","x":97.5,"y":8},{"t":"5","x":98.5,"y":9.5},{"t":"5","x":99.3,"y":3},{"t":"5","x":99.8,"y":-6},
{"t":"6","x":85,"y":4.5},{"t":"6","x":86.5,"y":6},{"t":"6","x":87.3,"y":10},{"t":"6","x":88,"y":13},{"t":"6","x":88.8,"y":11},{"t":"6","x":90,"y":8},{"t":"6","x":91.5,"y":7.5},{"t":"6","x":92.5,"y":7.5},{"t":"6","x":94,"y":7.2},{"t":"6","x":95.5,"y":6.5},{"t":"6","x":96.8,"y":3},{"t":"6","x":97.8,"y":-3},{"t":"6","x":98.3,"y":-8},{"t":"6","x":98.9,"y":-12},{"t":"6","x":99.2,"y":-17},{"t":"6","x":99.5,"y":-10},{"t":"6","x":99.8,"y":-6}
],
"dir_f":[
{"t":"1","x":82.5,"y":-4,"c":1},{"t":"1","x":84,"y":-3,"c":0},{"t":"1","x":86,"y":-1,"c":1},{"t":"1","x":88,"y":0,"c":0},{"t":"1","x":90,"y":1,"c":1},{"t":"1","x":92,"y":2,"c":0},{"t":"1","x":94,"y":2,"c":1},{"t":"1","x":96,"y":-1,"c":0},{"t":"1","x":97.5,"y":-1,"c":1},{"t":"1","x":99,"y":0,"c":0},{"t":"1","x":100,"y":-1,"c":1},
{"t":"2","x":82,"y":-4,"c":1},{"t":"2","x":83.5,"y":-3,"c":0},{"t":"2","x":85,"y":-2,"c":1},{"t":"2","x":87,"y":-1,"c":0},{"t":"2","x":89,"y":0.5,"c":1},{"t":"2","x":91,"y":2,"c":0},{"t":"2","x":93,"y":3,"c":1},{"t":"2","x":95,"y":4.5,"c":0},{"t":"2","x":97,"y":6.5,"c":1},{"t":"2","x":98.5,"y":8,"c":0},{"t":"2","x":99.5,"y":6,"c":0},{"t":"2","x":100,"y":4.5,"c":1},
{"t":"3","x":82,"y":-4,"c":1},{"t":"3","x":83.5,"y":-3.5,"c":0},{"t":"3","x":85,"y":-2.5,"c":1},{"t":"3","x":87,"y":-1,"c":0},{"t":"3","x":89,"y":0,"c":1},{"t":"3","x":91,"y":1,"c":0},{"t":"3","x":93,"y":1,"c":1},{"t":"3","x":95,"y":0,"c":0},{"t":"3","x":97,"y":0,"c":1},{"t":"3","x":98.5,"y":1,"c":0},{"t":"3","x":99.5,"y":8,"c":0},{"t":"3","x":100,"y":12,"c":1},
{"t":"4","x":84,"y":-1,"c":1},{"t":"4","x":86,"y":1,"c":0},{"t":"4","x":87.5,"y":2.5,"c":1},{"t":"4","x":89,"y":1.5,"c":0},{"t":"4","x":91,"y":0,"c":1},{"t":"4","x":93,"y":1,"c":0},{"t":"4","x":95,"y":-0.5,"c":1},{"t":"4","x":96.8,"y":-5,"c":0},{"t":"4","x":97.5,"y":-3,"c":1},{"t":"4","x":98.5,"y":-1,"c":0},{"t":"4","x":99.5,"y":2,"c":0},{"t":"4","x":100,"y":2,"c":1},
{"t":"5","x":85.5,"y":-1,"c":0},{"t":"5","x":86.5,"y":2,"c":1},{"t":"5","x":87.5,"y":5,"c":0},{"t":"5","x":89,"y":4,"c":1},{"t":"5","x":90.5,"y":2,"c":0},{"t":"5","x":91,"y":-3,"c":1},{"t":"5","x":92,"y":-3.5,"c":0},{"t":"5","x":93,"y":-4,"c":1},{"t":"5","x":94,"y":-1,"c":0},{"t":"5","x":95,"y":2,"c":1},{"t":"5","x":96,"y":3,"c":0},{"t":"5","x":97,"y":6,"c":0},{"t":"5","x":98.2,"y":9,"c":1},{"t":"5","x":99,"y":7,"c":0},{"t":"5","x":99.6,"y":-5,"c":0},{"t":"5","x":100,"y":-6,"c":1},
{"t":"6","x":84.1,"y":4,"c":1},{"t":"6","x":86,"y":5,"c":0},{"t":"6","x":87.8,"y":14,"c":1},{"t":"6","x":88.5,"y":12,"c":0},{"t":"6","x":89.5,"y":9,"c":1},{"t":"6","x":91,"y":7.5,"c":0},{"t":"6","x":93,"y":7.5,"c":1},{"t":"6","x":95,"y":7,"c":0},{"t":"6","x":96.5,"y":5,"c":1},{"t":"6","x":97.5,"y":0,"c":0},{"t":"6","x":98.6,"y":-11,"c":1},{"t":"6","x":99.3,"y":-5,"c":0},{"t":"6","x":100,"y":-8,"c":1}
]
},
"vconcat":[
{
 "title":{"text":"Trajectories"},
 "width":750,"height":161,
 "resolve":{"axis":{"x":"independent","y":"independent"}},
 "layer":[
  {"data":{"name":"top_o"},
   "mark":{"type":"point","filled":true,"size":123,"opacity":1},
   "encoding":{
    "x":{"field":"x","type":"quantitative","scale":{"domain":[-14,2],"nice":false,"zero":false},"axis":{"orient":"bottom","values":[-14,-12,-10,-8,-6,-4,-2,0,2],"title":"x [m]","titlePadding":2}},
    "y":{"field":"y","type":"quantitative","scale":{"domain":[-0.32,3.5],"nice":false,"zero":false},"axis":{"orient":"right","values":[0,1,2,3],"title":"y [m]","titleAngle":270,"titleBaseline":"top","labelPadding":10,"titlePadding":5}},
    "color":{"field":"t","type":"nominal","scale":{"domain":["1","2","3","4","5","6"],"range":["#000000","#0000ff","#00ffff","#00ff00","#ff0000","#ff00ff"]},"legend":null},
    "shape":{"datum":"O","type":"nominal","scale":{"domain":["O","S","F"],"range":["M-0.45,0A0.45,0.45 0 1,0 0.45,0A0.45,0.45 0 1,0 -0.45,0ZM-0.25,0A0.25,0.25 0 1,0 0.25,0A0.25,0.25 0 1,0 -0.25,0ZM-0.07,0A0.07,0.07 0 1,0 0.07,0A0.07,0.07 0 1,0 -0.07,0Z","M-0.7,0L0.7,0M0,-0.7L0,0.7","M-2.2,0L-0.6,0M0.6,0L2.2,0M-0.6,0A0.6,0.6 0 1,0 0.6,0A0.6,0.6 0 1,0 -0.6,0Z"]},
     "legend":{"title":null,"orient":"none","legendX":-102,"legendY":0,"symbolSize":100,"padding":3,"rowPadding":2,"symbolOffset":4,"labelOffset":6,"labelFontSize":13.5,"labelColor":"#000000","labelFont":"Liberation Sans","strokeColor":"#262626","fillColor":"#ffffff","cornerRadius":0,"symbolFillColor":"transparent","symbolStrokeColor":"#000000","symbolStrokeWidth":1,"symbolOpacity":1,"labelExpr":"datum.value==='O'?'Original':datum.value==='S'?'Smoothed':'Final'"}}
   }},
  {"data":{"name":"top_s"},
   "mark":{"type":"point","shape":"M-0.7,0L0.7,0M0,-0.7L0,0.7","filled":false,"size":100,"opacity":1,"strokeWidth":1},
   "encoding":{
    "x":{"field":"x","type":"quantitative","scale":{"domain":[-14,2],"nice":false,"zero":false},"axis":{"orient":"top","values":[-14,-12,-10,-8,-6,-4,-2,0,2],"labels":false,"title":null}},
    "y":{"field":"y","type":"quantitative","scale":{"domain":[-0.32,3.5],"nice":false,"zero":false},"axis":{"orient":"left","values":[0,1,2,3],"labels":false,"title":null}},
    "color":{"field":"t","type":"nominal","legend":null}
   }},
  {"data":{"name":"top_f"},
   "mark":{"type":"line","strokeWidth":1},
   "encoding":{
    "x":{"field":"x","type":"quantitative","axis":null},
    "y":{"field":"y","type":"quantitative","axis":null},
    "color":{"field":"t","type":"nominal","legend":null}
   }},
  {"data":{"name":"top_f"},
   "transform":[{"filter":"datum.c==1"}],
   "mark":{"type":"point","shape":"circle","filled":false,"size":49,"opacity":1,"strokeWidth":1},
   "encoding":{
    "x":{"field":"x","type":"quantitative","axis":null},
    "y":{"field":"y","type":"quantitative","axis":null},
    "color":{"field":"t","type":"nominal","legend":null}
   }},
  {"data":{"name":"top_l"},
   "mark":{"type":"text","align":"left","baseline":"middle","fontSize":15,"font":"Liberation Sans"},
   "encoding":{
    "x":{"field":"x","type":"quantitative","axis":null},
    "y":{"field":"y","type":"quantitative","axis":null},
    "text":{"field":"t"},
    "color":{"field":"t","type":"nominal","legend":null}
   }}
 ]
},
{
 "hconcat":[
  {
   "title":{"text":"Speed","offset":-3},
   "width":323,"height":159,
   "resolve":{"axis":{"x":"independent","y":"independent"}},
   "layer":[
    {"data":{"name":"spd_o"},
     "mark":{"type":"point","shape":"M-0.45,0A0.45,0.45 0 1,0 0.45,0A0.45,0.45 0 1,0 -0.45,0Z","filled":true,"size":123,"opacity":1,"strokeWidth":0},
     "encoding":{
      "x":{"field":"x","type":"quantitative","scale":{"domain":[80,100],"nice":false,"zero":false},"axis":{"orient":"bottom","values":[80,85,90,95,100],"title":"Offset x [m]","labelPadding":11,"titlePadding":5}},
      "y":{"field":"y","type":"quantitative","scale":{"domain":[0,30],"nice":false,"zero":false},"axis":{"orient":"left","values":[0,10,20,30],"title":"Speed [km/h]","labelPadding":12,"titlePadding":2}},
      "color":{"field":"t","type":"nominal","legend":null}
     }},
    {"data":{"name":"spd_s"},
     "mark":{"type":"point","shape":"M-0.7,0L0.7,0M0,-0.7L0,0.7","filled":false,"size":100,"opacity":1,"strokeWidth":1},
     "encoding":{
      "x":{"field":"x","type":"quantitative","scale":{"domain":[80,100],"nice":false,"zero":false},"axis":{"orient":"top","values":[80,85,90,95,100],"labels":false,"title":null}},
      "y":{"field":"y","type":"quantitative","scale":{"domain":[0,30],"nice":false,"zero":false},"axis":{"orient":"right","values":[0,10,20,30],"labels":false,"title":null}},
      "color":{"field":"t","type":"nominal","legend":null}
     }},
    {"data":{"name":"spd_f"},
     "mark":{"type":"line","strokeWidth":1},
     "encoding":{
      "x":{"field":"x","type":"quantitative","axis":null},
      "y":{"field":"y","type":"quantitative","axis":null},
      "color":{"field":"t","type":"nominal","legend":null}
     }},
    {"data":{"name":"spd_f"},
     "transform":[{"filter":"datum.c==1"}],
     "mark":{"type":"point","shape":"circle","filled":false,"size":49,"opacity":1,"strokeWidth":1},
     "encoding":{
      "x":{"field":"x","type":"quantitative","axis":null},
      "y":{"field":"y","type":"quantitative","axis":null},
      "color":{"field":"t","type":"nominal","legend":null}
     }}
   ]
  },
  {
   "title":{"text":"Direction","offset":4},
   "width":324,"height":159,
   "resolve":{"axis":{"x":"independent","y":"independent"}},
   "layer":[
    {"data":{"name":"dir_o"},
     "mark":{"type":"point","shape":"M-0.45,0A0.45,0.45 0 1,0 0.45,0A0.45,0.45 0 1,0 -0.45,0Z","filled":true,"size":123,"opacity":1,"strokeWidth":0},
     "encoding":{
      "x":{"field":"x","type":"quantitative","scale":{"domain":[80,100],"nice":false,"zero":false},"axis":{"orient":"bottom","values":[80,85,90,95,100],"title":"Offset x [m]","labelPadding":11,"titlePadding":5}},
      "y":{"field":"y","type":"quantitative","scale":{"domain":[-45,45],"nice":false,"zero":false},"axis":{"orient":"left","values":[-40,-20,0,20,40],"title":"Angle [degrees]","labelPadding":12,"titlePadding":-3}},
      "color":{"field":"t","type":"nominal","legend":null}
     }},
    {"data":{"name":"dir_s"},
     "mark":{"type":"point","shape":"M-0.7,0L0.7,0M0,-0.7L0,0.7","filled":false,"size":100,"opacity":1,"strokeWidth":1},
     "encoding":{
      "x":{"field":"x","type":"quantitative","scale":{"domain":[80,100],"nice":false,"zero":false},"axis":{"orient":"top","values":[80,85,90,95,100],"labels":false,"title":null}},
      "y":{"field":"y","type":"quantitative","scale":{"domain":[-45,45],"nice":false,"zero":false},"axis":{"orient":"right","values":[-40,-20,0,20,40],"labels":false,"title":null}},
      "color":{"field":"t","type":"nominal","legend":null}
     }},
    {"data":{"name":"dir_f"},
     "mark":{"type":"line","strokeWidth":1},
     "encoding":{
      "x":{"field":"x","type":"quantitative","axis":null},
      "y":{"field":"y","type":"quantitative","axis":null},
      "color":{"field":"t","type":"nominal","legend":null}
     }},
    {"data":{"name":"dir_f"},
     "transform":[{"filter":"datum.c==1"}],
     "mark":{"type":"point","shape":"circle","filled":false,"size":49,"opacity":1,"strokeWidth":1},
     "encoding":{
      "x":{"field":"x","type":"quantitative","axis":null},
      "y":{"field":"y","type":"quantitative","axis":null},
      "color":{"field":"t","type":"nominal","legend":null}
     }}
   ]
  }
 ],
 "spacing":103,
 "bounds":"flush"
}
]
}
